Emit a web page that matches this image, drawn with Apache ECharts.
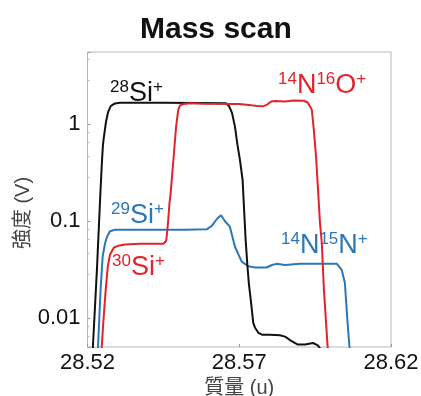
<!DOCTYPE html>
<html>
<head>
<meta charset="utf-8">
<script src="https://cdn.jsdelivr.net/npm/echarts@6/dist/echarts.min.js"></script>
<style>
  html, body { margin: 0; padding: 0; background: #fff; }
  #chart { width: 421px; height: 396px; }
</style>
</head>
<body>
<div id="chart"></div>
<script>
// x ticks (u)
const massTicks = [28.52, 28.57, 28.62];

// 28Si+ (black)
const si28Mass = [28.5217, 28.5231, 28.5243, 28.5248, 28.5251, 28.5254, 28.5261, 28.5268, 28.5277, 28.5291, 28.5307, 28.5450, 28.5560, 28.5656, 28.5666, 28.5676, 28.5686, 28.5694, 28.5702, 28.5711, 28.5716, 28.5721, 28.5727, 28.5732, 28.5738, 28.5746, 28.5752, 28.5763, 28.5775, 28.5801, 28.5834, 28.5851, 28.5867, 28.5893, 28.5917, 28.5943, 28.5959, 28.5969];
const si28Int = [0.0045, 0.031, 0.21, 0.43, 0.61, 0.73, 1.05, 1.33, 1.53, 1.62, 1.65, 1.65, 1.64, 1.63, 1.53, 1.30, 0.93, 0.61, 0.43, 0.265, 0.13, 0.064, 0.034, 0.022, 0.0153, 0.0089, 0.0079, 0.0070, 0.0067, 0.0067, 0.0066, 0.0064, 0.0059, 0.0053, 0.0053, 0.0055, 0.0052, 0.0047];

// 30Si+ -> 14N16O+ (red)
const redMass = [28.5246, 28.5252, 28.5260, 28.5267, 28.5274, 28.5287, 28.5301, 28.5324, 28.5373, 28.5450, 28.5459, 28.5461, 28.5466, 28.5470, 28.5474, 28.5483, 28.5492, 28.5499, 28.5505, 28.5516, 28.5540, 28.5580, 28.5700, 28.5740, 28.5760, 28.5780, 28.5792, 28.5805, 28.5818, 28.5850, 28.5880, 28.5912, 28.5926, 28.5939, 28.5946, 28.5953, 28.5960, 28.5966, 28.5972, 28.5979, 28.5991, 28.5995];
const redInt = [0.0045, 0.0089, 0.0194, 0.034, 0.0446, 0.053, 0.0552, 0.057, 0.058, 0.058, 0.062, 0.069, 0.102, 0.15, 0.193, 0.426, 0.94, 1.39, 1.55, 1.60, 1.63, 1.61, 1.60, 1.55, 1.53, 1.52, 1.58, 1.70, 1.72, 1.70, 1.74, 1.73, 1.66, 1.40, 0.85, 0.46, 0.20, 0.095, 0.059, 0.0194, 0.0051, 0.0045];

// 29Si+ -> 14N15N+ (blue)
const blueMass = [28.5234, 28.5243, 28.5250, 28.5258, 28.5264, 28.5274, 28.5291, 28.5406, 28.5520, 28.5594, 28.5610, 28.5627, 28.5640, 28.5653, 28.5669, 28.5686, 28.5708, 28.5730, 28.5752, 28.5790, 28.5808, 28.5823, 28.5851, 28.5900, 28.5966, 28.6022, 28.6038, 28.6048, 28.6057, 28.6063, 28.6066];
const blueInt = [0.0045, 0.0194, 0.043, 0.059, 0.068, 0.078, 0.081, 0.081, 0.081, 0.082, 0.089, 0.105, 0.114, 0.099, 0.087, 0.054, 0.038, 0.034, 0.033, 0.033, 0.035, 0.036, 0.035, 0.036, 0.036, 0.036, 0.031, 0.023, 0.0088, 0.0051, 0.0045];

const pairs = (xs, ys) => xs.map((x, i) => [x, ys[i]]);

const FONT = "'Liberation Sans', Arial, 'Noto Sans CJK JP', sans-serif";
const BLACK = '#111111';
const RED = '#e2232b';
const BLUE = '#2b78b8';

// superscript label as rich text
const ionLabel = (text, color, left, top) => ({
    text,
    left,
    top,
    padding: 0,
    textStyle: {
        fontFamily: FONT,
        fontSize: 27,
        fontWeight: 'normal',
        color,
        lineHeight: 30,
        rich: {
            sup: { fontFamily: FONT, fontSize: 17, color, lineHeight: 17, verticalAlign: 'top' },
            m: { fontFamily: FONT, fontSize: 27, color, lineHeight: 30 }
        }
    }
});

const chart = echarts.init(document.getElementById('chart'));

chart.setOption({
    animation: false,
    title: [
        {
            text: 'Mass scan',
            left: 140,
            top: 15,
            padding: 0,
            textStyle: { fontFamily: FONT, fontSize: 30, fontWeight: 'bold', color: '#111' }
        },
        ionLabel('{sup|28}{m|Si}{sup|+}', BLACK, 110, 79),
        ionLabel('{sup|14}{m|N}{sup|16}{m|O}{sup|+}', RED, 278, 71),
        ionLabel('{sup|29}{m|Si}{sup|+}', BLUE, 111, 201),
        ionLabel('{sup|30}{m|Si}{sup|+}', RED, 112, 253),
        ionLabel('{sup|14}{m|N}{sup|15}{m|N}{sup|+}', BLUE, 281, 231)
    ],
    graphic: [
        {
            type: 'text',
            x: 23,
            y: 213,
            rotation: Math.PI / 2,
            style: {
                text: '強度 (V)',
                font: "20px 'Liberation Sans', 'Noto Sans CJK JP', sans-serif",
                fill: '#444',
                align: 'center',
                verticalAlign: 'middle'
            }
        }
    ],
    grid: {
        left: 87.5,
        right: 30,
        top: 52,
        bottom: 49,
        outerBoundsMode: 'none',
        containLabel: false,
        show: true,
        borderColor: '#b8b8b8',
        borderWidth: 1
    },
    xAxis: {
        type: 'value',
        min: 28.52,
        max: 28.62,
        name: '質量 (u)',
        nameLocation: 'middle',
        nameGap: 22,
        nameTextStyle: { fontFamily: FONT, fontSize: 20, color: '#444' },
        axisLine: { show: false },
        splitLine: { show: false },
        axisTick: { show: true, inside: true, length: 3, lineStyle: { color: '#999' }, customValues: massTicks },
        axisLabel: {
            customValues: massTicks,
            formatter: v => v.toFixed(2),
            fontFamily: FONT,
            fontSize: 22,
            color: '#111',
            margin: 5
        }
    },
    yAxis: {
        type: 'log',
        logBase: 10,
        min: 0.005,
        max: 5.5,
        axisLine: { show: false },
        splitLine: { show: false },
        axisTick: { show: true, inside: true, length: 3, lineStyle: { color: '#999' } },
        minorTick: { show: true, splitNumber: 5, length: 2, lineStyle: { color: '#bbb' } },
        axisLabel: {
            showMinLabel: false,
            showMaxLabel: false,
            formatter: v => {
                const l = Math.log10(v);
                if (Math.abs(l - Math.round(l)) > 1e-6) return '';
                return String(+v.toPrecision(3));
            },
            fontFamily: FONT,
            fontSize: 22,
            color: '#111',
            margin: 7
        }
    },
    series: [
        {
            name: '28Si+',
            type: 'line',
            data: pairs(si28Mass, si28Int),
            showSymbol: false,
            lineStyle: { color: BLACK, width: 2 },
            z: 3
        },
        {
            name: '29Si+ / 14N15N+',
            type: 'line',
            data: pairs(blueMass, blueInt),
            showSymbol: false,
            lineStyle: { color: BLUE, width: 2 },
            z: 2
        },
        {
            name: '30Si+ / 14N16O+',
            type: 'line',
            data: pairs(redMass, redInt),
            showSymbol: false,
            lineStyle: { color: RED, width: 2 },
            z: 4
        }
    ]
});
</script>
</body>
</html>
